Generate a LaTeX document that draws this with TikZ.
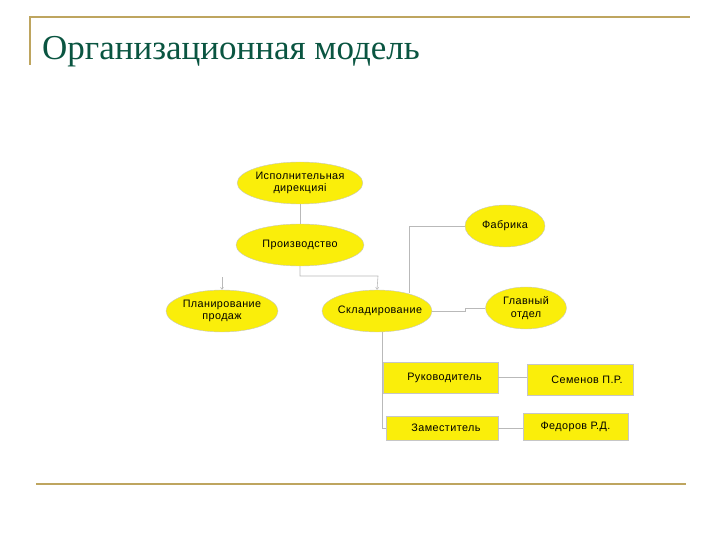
\documentclass[tikz,border=0pt]{standalone}
\usepackage{fontspec}
\setmainfont{Liberation Serif}
\newfontfamily\boxfont[LetterSpace=4]{Liberation Sans}
\usetikzlibrary{shapes.geometric,arrows.meta}

\definecolor{gold}{RGB}{190,165,95}
\definecolor{titlegreen}{RGB}{10,85,65}
\definecolor{nodeyellow}{RGB}{250,238,10}
\definecolor{linkgray}{RGB}{185,185,185}

\tikzset{
  oval/.style={ellipse,draw=gray!45,fill=nodeyellow,inner sep=0pt,
    minimum width=124pt,minimum height=42pt,align=center,
    font=\boxfont\fontsize{10.8}{12.5}\selectfont},
  card/.style={rectangle,draw=gray!45,fill=nodeyellow,inner sep=0pt,
    font=\boxfont\fontsize{10.8}{12.5}\selectfont},
  link/.style={draw=linkgray,line width=0.6pt},
  tip/.style={link,-{Straight Barb[length=2pt,width=3pt]}}
}

\begin{document}
\begin{tikzpicture}[x=1pt,y=-1pt]
    \useasboundingbox (0,0) rectangle (720,540);
    \draw[gold,line width=1.5pt] (30,65) -- (30,17) -- (690,17);
    \draw[gold,line width=1.5pt] (36,484) -- (686,484);
    \node[anchor=base west,text=titlegreen,font=\fontsize{35}{38}\selectfont,inner sep=0pt]
        (title) at (42,60) {Организационная модель};

    \node[oval]  (dir)   at (300,183) {Исполнительная\\дирекцияі};
    \node[oval,minimum width=128pt]  (prod)  at (300,245) {Производство};
    \node[oval,minimum width=112pt]  (plan)  at (222,311) {Планирование\\продаж};
    \node[oval,minimum width=110pt,inner xsep=-14pt]  (sklad) at (377,311) {\hspace*{6pt}Складирование};
    \node[oval,minimum width=80pt]   (fab)   at (505,226) {Фабрика};
    \node[oval,minimum width=81pt]   (glav)  at (526,308) {Главный\\отдел};

    \node[card,minimum width=115pt,minimum height=31pt] (ruk) at (440.5,377.5) {\hspace*{8pt}Руководитель};
    \node[card,minimum width=106pt,minimum height=31pt] (sem) at (580,379.5) {\hspace*{14pt}Семенов П.Р.};
    \node[card,minimum width=112pt,minimum height=24pt] (zam) at (442,428) {\hspace*{8pt}Заместитель};
    \node[card,minimum width=105pt,minimum height=27pt] (fed) at (575.5,426.5) {Федоров Р.Д.};

    \coordinate (planin) at (222,277);
    \coordinate (ruk-tap) at (382,378);

    \draw[link] (dir) -- (prod);
    \draw[tip] (prod.south) |- (378,276) -- (sklad.north);
    \draw[tip] (planin) -- (plan.north);
    \draw[link] (409,293) |- (fab.west);
    \draw[link] (sklad.east) -- (465,311) |- (glav.west);
    \draw[link] (382,332) |- (zam.west);
    \draw[link] (ruk-tap) -- (ruk.west);
    \draw[link] (ruk.east) -- (ruk.east -| sem.west);
    \draw[link] (zam.east) -- (zam.east -| fed.west);
\end{tikzpicture}
\end{document}
